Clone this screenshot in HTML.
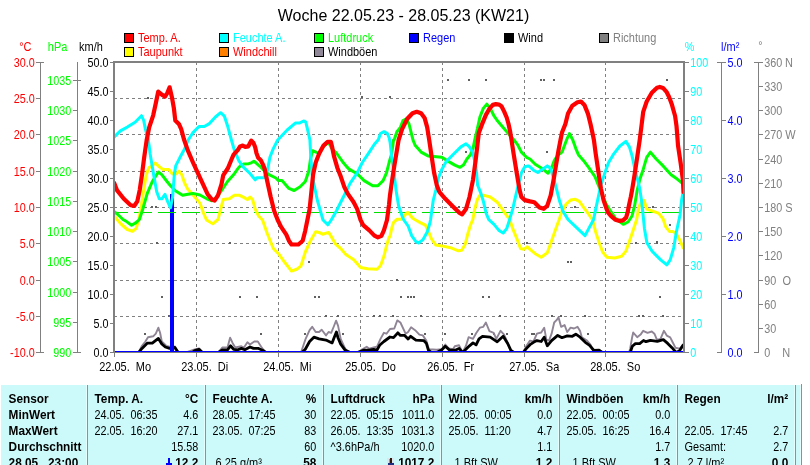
<!DOCTYPE html><html><head><meta charset="utf-8"><title>Woche 22.05.23 - 28.05.23 (KW21)</title>
<style>html,body{margin:0;padding:0;background:#fff;overflow:hidden}svg{display:block}text{font-family:"Liberation Sans", Arial, sans-serif;font-size:12px}</style></head><body>
<svg width="810" height="465" viewBox="0 0 810 465">
<rect width="810" height="465" fill="#fff"/>
<text transform="translate(403.5 21.1) scale(1 1)" text-anchor="middle" fill="#000" xml:space="preserve" style="font-size:16px">Woche 22.05.23 - 28.05.23 (KW21)</text>
<rect x="124.5" y="33.5" width="9" height="9" fill="#ff0000" stroke="#000" stroke-width="1"/>
<text transform="translate(138 42) scale(0.915 1)" text-anchor="start" fill="#ff0000" xml:space="preserve">Temp. A.</text>
<rect x="124.5" y="47.5" width="9" height="9" fill="#ffff00" stroke="#000" stroke-width="1"/>
<text transform="translate(138 56) scale(0.915 1)" text-anchor="start" fill="#ff0000" xml:space="preserve">Taupunkt</text>
<rect x="219.5" y="33.5" width="9" height="9" fill="#00ffff" stroke="#000" stroke-width="1"/>
<text transform="translate(233 42) scale(0.915 1)" text-anchor="start" fill="#00ffff" xml:space="preserve">Feuchte A.</text>
<rect x="219.5" y="47.5" width="9" height="9" fill="#ff8000" stroke="#000" stroke-width="1"/>
<text transform="translate(233 56) scale(0.915 1)" text-anchor="start" fill="#ff0000" xml:space="preserve">Windchill</text>
<rect x="314.5" y="33.5" width="9" height="9" fill="#00ff00" stroke="#000" stroke-width="1"/>
<text transform="translate(328 42) scale(0.915 1)" text-anchor="start" fill="#00ff00" xml:space="preserve">Luftdruck</text>
<rect x="314.5" y="47.5" width="9" height="9" fill="#908898" stroke="#000" stroke-width="1"/>
<text transform="translate(328 56) scale(0.915 1)" text-anchor="start" fill="#000" xml:space="preserve">Windböen</text>
<rect x="409.5" y="33.5" width="9" height="9" fill="#0000ff" stroke="#000" stroke-width="1"/>
<text transform="translate(423 42) scale(0.915 1)" text-anchor="start" fill="#0000ff" xml:space="preserve">Regen</text>
<rect x="504.5" y="33.5" width="9" height="9" fill="#000" stroke="#000" stroke-width="1"/>
<text transform="translate(518 42) scale(0.915 1)" text-anchor="start" fill="#000" xml:space="preserve">Wind</text>
<rect x="599.5" y="33.5" width="9" height="9" fill="#808080" stroke="#000" stroke-width="1"/>
<text transform="translate(613 42) scale(0.915 1)" text-anchor="start" fill="#808080" xml:space="preserve">Richtung</text>
<g stroke="#808080" stroke-width="1" stroke-dasharray="3 3" fill="none" shape-rendering="crispEdges">
<path d="M196.5 63 V351" stroke-dashoffset="1"/>
<path d="M278.5 63 V351" stroke-dashoffset="1"/>
<path d="M360.5 63 V351" stroke-dashoffset="1"/>
<path d="M442.5 63 V351" stroke-dashoffset="1"/>
<path d="M524.5 63 V351" stroke-dashoffset="1"/>
<path d="M605.5 63 V351" stroke-dashoffset="1"/>
<path d="M115 98.5 H683" stroke-dashoffset="1"/>
<path d="M115 134.5 H683" stroke-dashoffset="1"/>
<path d="M115 171.5 H683" stroke-dashoffset="1"/>
<path d="M115 207.5 H683" stroke-dashoffset="1"/>
<path d="M115 243.5 H683" stroke-dashoffset="1"/>
<path d="M115 280.5 H683" stroke-dashoffset="1"/>
<path d="M115 316.5 H683" stroke-dashoffset="1"/>
</g>
<defs><clipPath id="pc"><rect x="115" y="63" width="568" height="290"/></clipPath></defs>
<g clip-path="url(#pc)">
<g>
<rect x="147" y="97" width="2" height="2" fill="#606060"/>
<rect x="151" y="206" width="2" height="2" fill="#606060"/>
<rect x="155" y="206" width="2" height="2" fill="#606060"/>
<rect x="156" y="242" width="2" height="2" fill="#606060"/>
<rect x="161" y="296" width="2" height="2" fill="#606060"/>
<rect x="229" y="242" width="2" height="2" fill="#606060"/>
<rect x="239" y="296" width="2" height="2" fill="#606060"/>
<rect x="144" y="333" width="2" height="2" fill="#606060"/>
<rect x="168" y="315" width="2" height="2" fill="#606060"/>
<rect x="361" y="96" width="2" height="2" fill="#606060"/>
<rect x="389" y="96" width="2" height="2" fill="#606060"/>
<rect x="308" y="261" width="2" height="2" fill="#606060"/>
<rect x="256" y="296" width="2" height="2" fill="#606060"/>
<rect x="314" y="296" width="2" height="2" fill="#606060"/>
<rect x="318" y="296" width="2" height="2" fill="#606060"/>
<rect x="260" y="333" width="2" height="2" fill="#606060"/>
<rect x="304" y="333" width="2" height="2" fill="#606060"/>
<rect x="342" y="333" width="2" height="2" fill="#606060"/>
<rect x="325" y="315" width="2" height="2" fill="#606060"/>
<rect x="337" y="315" width="2" height="2" fill="#606060"/>
<rect x="373" y="315" width="2" height="2" fill="#606060"/>
<rect x="379" y="315" width="2" height="2" fill="#606060"/>
<rect x="447" y="79" width="2" height="2" fill="#606060"/>
<rect x="468" y="79" width="2" height="2" fill="#606060"/>
<rect x="485" y="79" width="2" height="2" fill="#606060"/>
<rect x="465" y="151" width="2" height="2" fill="#606060"/>
<rect x="458" y="206" width="2" height="2" fill="#606060"/>
<rect x="400" y="296" width="2" height="2" fill="#606060"/>
<rect x="407" y="296" width="2" height="2" fill="#606060"/>
<rect x="410" y="296" width="2" height="2" fill="#606060"/>
<rect x="413" y="296" width="2" height="2" fill="#606060"/>
<rect x="482" y="296" width="2" height="2" fill="#606060"/>
<rect x="488" y="296" width="2" height="2" fill="#606060"/>
<rect x="396" y="279" width="2" height="2" fill="#606060"/>
<rect x="526" y="242" width="2" height="2" fill="#606060"/>
<rect x="424" y="333" width="2" height="2" fill="#606060"/>
<rect x="444" y="333" width="2" height="2" fill="#606060"/>
<rect x="471" y="333" width="2" height="2" fill="#606060"/>
<rect x="493" y="333" width="2" height="2" fill="#606060"/>
<rect x="506" y="333" width="2" height="2" fill="#606060"/>
<rect x="392" y="315" width="2" height="2" fill="#606060"/>
<rect x="420" y="315" width="2" height="2" fill="#606060"/>
<rect x="499" y="315" width="2" height="2" fill="#606060"/>
<rect x="540" y="79" width="2" height="2" fill="#606060"/>
<rect x="543" y="79" width="2" height="2" fill="#606060"/>
<rect x="553" y="79" width="2" height="2" fill="#606060"/>
<rect x="666" y="79" width="2" height="2" fill="#606060"/>
<rect x="546" y="151" width="2" height="2" fill="#606060"/>
<rect x="574" y="206" width="2" height="2" fill="#606060"/>
<rect x="652" y="206" width="2" height="2" fill="#606060"/>
<rect x="567" y="261" width="2" height="2" fill="#606060"/>
<rect x="570" y="261" width="2" height="2" fill="#606060"/>
<rect x="635" y="242" width="2" height="2" fill="#606060"/>
<rect x="656" y="242" width="2" height="2" fill="#606060"/>
<rect x="659" y="296" width="2" height="2" fill="#606060"/>
<rect x="531" y="333" width="2" height="2" fill="#606060"/>
<rect x="533" y="333" width="2" height="2" fill="#606060"/>
<rect x="587" y="333" width="2" height="2" fill="#606060"/>
<rect x="551" y="315" width="2" height="2" fill="#606060"/>
<rect x="560" y="315" width="2" height="2" fill="#606060"/>
<rect x="584" y="315" width="2" height="2" fill="#606060"/>
<rect x="638" y="315" width="2" height="2" fill="#606060"/>
<rect x="642" y="315" width="2" height="2" fill="#606060"/>
<rect x="662" y="315" width="2" height="2" fill="#606060"/>
<rect x="669" y="224" width="2" height="2" fill="#606060"/>
<rect x="656" y="241" width="2" height="2" fill="#606060"/>
</g>
<polyline points="114.5,352.5 138.5,352.5 142,345.8 145.4,341.5 148,337.2 153.2,336.3 155.8,333.7 158.4,327.7 160.1,332.8 161.8,341.5 166.2,345.8 169.6,346.7 175,346.5 178.3,352.5 186,352.5 194.7,349.5 199,348.3 202.5,352.5 218,352.5 222.3,347.5 227.5,347.5 230.1,337.7 232.7,343.2 235.3,347.5 241.4,346.3 244,347.5 247.4,342.3 250,344.5 254.3,341.5 257.8,341.5 261.2,346.7 265.6,352.5 289.7,352.5 301,352.5 305.3,339.7 309.6,330.2 312.2,326.8 315.7,332 319.1,332 321.7,329.7 326,335.4 328.6,332 331.2,332.8 333.8,326.5 336.1,320.7 338.1,325.9 340.7,338.9 344.2,346.7 347.7,352.5 350,352.5 358,352.5 362.3,349.3 366.7,346.7 369.3,348.7 373.6,347.5 377,346.7 380.5,338.9 383.9,332.8 386.5,333.7 390,329 394.3,328.5 397.3,320.4 400.4,322.5 405.6,333.7 408.1,332 411.1,327.3 415.1,330.2 419.4,334.6 422.8,335.4 426.3,340.6 428.9,349.3 436.7,349.8 441.8,349.3 445.3,344.6 448.8,348.4 453,349.3 454.8,346.3 459.1,345.3 462.6,352.5 466,345.8 468.6,337.2 473,338.9 476.4,332.8 479.9,327.7 483.3,326.8 485.9,322.5 489.4,331.1 493.7,332.8 496.3,338.9 500.6,330.8 504.1,334.6 507.5,342.3 511,352.5 513,352.5 521,352.5 523.1,352.5 526.5,345.8 530,340.6 533.5,341.5 536.9,333.7 541.2,332.5 544.2,327.7 546.4,339.7 549,340.6 551.6,333.7 554.2,322.5 556.8,319.9 558.5,317.3 561.1,326.8 564.6,325.1 567.2,332 570.6,327.7 574,328.5 577.5,326.8 580.1,331.1 581.8,337.2 587,340.6 590.5,344.6 593.9,352.5 596,352.5 629,352.5 630.2,348.4 632,338 633.2,332.5 637.2,337.2 640.6,334.6 643.2,330.8 647.5,332.8 651.8,331.5 654.4,333.7 657,339.9 660.5,338.9 663.9,330.8 666.8,335.6 670.2,337.3 672.8,342.5 675.4,347.7 679.8,348.6 683.2,344.3" fill="none" stroke="#8f8595" stroke-width="1.9" stroke-linejoin="round" stroke-linecap="round" />
<polyline points="114.5,352.6 138.5,352.6 142,348.4 147.2,343.2 152.3,343.2 158.4,338.4 161.8,344 165.3,347 169.6,348.4 174.8,347.5 178.3,352.6 186,352.6 192.5,352.6 194.7,350.5 199,349.3 202.5,352.6 218,352.6 222.3,349.8 227.5,349.8 230.5,345.8 233.6,349.3 237.9,349.8 241.4,348.4 244.8,349.8 250,347 253.5,348.4 258.6,348.4 263,350.5 266.4,352.6 291.5,352.6 301.8,352.6 305.3,349.3 309.6,341.5 313.9,337.2 319.1,338.9 326,340.1 332.1,342.9 334,338 336.4,332 338.1,338 340.7,344.1 345.1,350.1 350.2,352.6 357.2,352.6 364.1,350.1 369,350.1 373.6,349.3 377,350.1 379.6,345.3 383.9,341.5 390,337 393.5,337.7 397.8,332.8 400.4,335.4 404.7,335.4 408.1,338.9 410.7,336.3 415.9,340.1 423.7,340.6 426.3,343.2 428.4,350.1 431.5,352.6 436.7,352.6 441.8,349.8 445.3,346.3 449.6,350.1 455.7,350.1 459.1,348.4 462.6,352.6 465.2,350.1 469.5,345.8 473,342.9 476.1,344.9 479,338.9 482.5,336.3 490.2,337.2 497.2,341.8 503.2,336.3 507.5,343.2 511,350.5 514.4,352.6 523.1,352.6 526.5,348.4 530,344.7 533.5,342.3 536.9,340.6 541.2,341.5 544.2,337.2 547.3,345.8 551.6,340.6 557.7,335.4 562,337.7 567.2,335.9 572.3,336.3 575.8,334.2 580.1,337.2 585.3,342.3 589.6,345.3 593.9,350.5 599.1,350.1 602.6,352.6 630.2,352.6 632.3,346.3 635.4,343.6 639.7,343.6 643.5,340.5 646,341.7 650.4,340.3 657.3,341.3 663.3,339.6 667.7,343.4 672,347.7 676.3,352.6 679.8,350.3 683.2,345.1" fill="none" stroke="#000" stroke-width="2.8" stroke-linejoin="round" stroke-linecap="round" />
<rect x="170" y="194" width="4" height="158" fill="#0000ff"/>
<rect x="115" y="351" width="568" height="1" fill="#0000ff"/>
<path d="M115 212.5 H683" stroke="#00e000" stroke-width="1" stroke-dasharray="18 6" stroke-dashoffset="5" fill="none" shape-rendering="crispEdges"/>
<polyline points="114.3,216 117,219.5 121,224 127.3,229.5 132.5,231.2 136,228.6 138.5,221 141.1,207.4 143.7,190.1 146.3,174.6 148.9,167.7 155.3,163 159.3,166.8 162.7,169.4 168.8,169.4 172.2,173.7 175,174.5 179.1,171.1 181.7,174.6 184.3,182.3 187.8,189.3 191.2,192.7 194.7,197 199.9,203.1 203.3,212.6 206.5,220 212.8,223.8 218,219.5 220.6,209.1 223.2,199.6 229.3,198.8 234.4,195.3 239.6,195.3 244.8,197.9 247.4,199.6 250,197 252.6,199.6 255.2,209.1 258.6,216 262.5,220 267.3,233.8 273.3,248.5 278.5,253.7 284.6,262.3 291.5,271 296.7,269.3 301,265.8 305.3,252 310.5,240.7 315.7,231.8 319.1,232.4 322.6,234.2 328.6,232.4 331.2,236.4 335.6,244.2 340.7,248.5 345.9,254.6 353.7,259.8 360.6,267.5 367.5,268.7 377,269.3 380.5,265.8 383.9,256.3 386.5,245.9 389.1,237.3 390,236.4 391.7,228.3 393.4,222.7 396.9,219.3 401.2,219.3 404.6,215.4 407.7,212.3 409.8,214.5 412.4,218 415.1,219.7 420.2,222.6 425.4,225.2 428,230.4 431.5,239 435.8,245.1 441.8,245.9 450.5,247.7 458.3,250.8 461.7,250.2 465.2,244.2 467.8,233.8 470.4,225.2 472.8,219.7 474.7,209.1 477.3,199.6 479.9,195.3 485,195.6 490.2,197 497.2,202.2 502.3,209.1 505.8,214.3 509.7,219.5 512.7,228.6 517,239 520.5,248.5 523.9,249.4 527.4,246.8 530,249.4 535.2,253.7 541.2,257.2 547.3,252.8 551.6,240.7 555.9,228.6 559,220 562,210.9 566.3,203.9 570.6,200.1 575.3,199.3 579.3,201.4 583.6,207.4 588.8,214.3 592.6,220 595.7,232.1 599.1,242.5 602.6,252 606.9,257.2 614.7,258 621.6,256.3 625.9,251.1 630.2,239 633.7,228.6 636.5,220 638.9,207.4 641.5,200.5 644.1,200.5 646.7,209.1 652.7,211.2 658.8,213.4 663.1,219 665.7,226.9 669.4,231.4 672.8,231.4 676.3,234 679.8,240.1 683.2,247.8" fill="none" stroke="#ffff00" stroke-width="3" stroke-linejoin="round" stroke-linecap="round" />
<polyline points="114.3,211.7 118.6,215.2 123,219.5 125.6,220.9 131.6,225.2 136,222.6 139.4,219.5 142.8,209.1 147.2,193.6 152.3,181.5 158.4,172 161.8,174.6 167,181.5 170.5,185.8 175.7,191 182.6,195.3 187.8,194.3 193,193.4 199.9,195 206.8,198.8 212,200.8 216,198 220.6,191.8 227.5,181.5 234.4,173.7 238.3,168 240.9,165.4 243.5,164.1 248.7,163.7 251.3,162.8 253.9,161.3 256.5,163.3 259.9,166.3 263.8,170.2 269,174.6 275.9,178 278.5,180.6 282,180.6 288.9,188.4 294.1,190.5 300.1,186.7 305.3,181.5 308.8,171.1 310.5,159 312.6,150.7 316.5,152.4 319.5,153 323.5,146.5 328.6,142 331.2,147.5 333.5,150.5 336.4,153 343.4,162.8 346,165.9 349,169.1 357.2,173.7 364.1,180.6 372.7,185.8 377.9,185.8 383.1,180.6 386.5,172.8 389.1,162.5 391.7,153.8 393.5,140 394.3,139.5 396.9,131.7 400.4,127.4 403,120.5 406.4,118.8 409,124 411.6,134.3 413,140 415.1,145.2 421.1,152.1 428,155.9 441.8,157.3 448.8,161.6 454.8,165.1 460,167.3 463.5,165.1 466.9,159 470.4,154.7 473,148.6 474.7,140 477.3,129.1 479.9,117 483.3,108.4 486.8,104.1 490.2,108.4 493.7,115.3 497.2,120.5 502.3,126.5 507.5,132.6 514,140 517.9,145.2 521.4,152.1 526.5,157.3 530,159 535.2,164.2 542.1,168.5 548.1,173.2 551.6,167.7 554.2,160.7 558,155 562,152.1 564.6,145.2 566.5,140 569.4,133.5 572.8,140 575.8,148.6 578.4,154.7 583.6,160.7 588.8,167.7 594.8,176.3 598.3,184.9 602.6,195.3 606,203.9 610.4,210.9 616,219 623.3,224.3 628,222 632,216 634.6,205.7 637.2,190.1 639.7,179.8 643.2,169.4 646.7,157.3 650.4,152.2 656.2,159 663.1,165.9 671.1,174.8 677.2,179.1 681.5,182.5 683,184" fill="none" stroke="#00ff00" stroke-width="3" stroke-linejoin="round" stroke-linecap="round" />
<polyline points="114.3,136.9 120.4,130.9 127.3,127.1 135.1,122.2 141.5,115.7 143.7,120.5 145.4,129.1 148.4,140 150.1,153.8 153.6,174.6 156.7,191.8 159.3,198.8 161.8,198.8 165,194.4 167.9,202.2 170.5,207.8 172.6,197 174.3,174.6 175.7,165.9 180,157.3 184.3,149.5 188.2,140 193,132.6 199,126.5 204.2,126.5 209.4,123.6 215.4,117 220.6,112.7 224.4,116.2 227.5,125.7 231.4,140 234.4,150.4 238.8,160.7 243.1,166.8 250,173.5 255.2,179.8 256.9,177.7 263.8,177.7 267.3,171.1 269.9,157.3 273.3,148.6 277.7,140 287.2,130 295.3,123.1 299.3,123.1 303.6,121 305.7,121.9 307.9,130.9 309.9,140 310.8,157.3 312.2,174.6 314.8,188.4 317.4,200.5 320.9,212.6 323,220 327.8,224.8 331.2,220 336.4,210.9 341.6,200.5 345.9,191.8 350.2,183.2 357.2,172.8 362.3,162.5 369.3,152.1 374.4,144.3 378.3,139.7 380.5,133.5 384,131.7 387.4,133.5 389.2,138 390.2,143 391.7,157.3 394.3,174.6 396,190.1 398.6,205.7 402.1,216 403.8,220 408.1,226 411.6,235.6 415.9,241.6 418.5,243 422.8,239.9 427.2,232.1 429.8,223.5 430.6,219.5 433.2,200.5 435.8,190.1 438.4,178 441.8,169.4 446.2,161.6 453.9,153.8 460.9,146.9 466,143.8 469.5,146.9 473,153 476,167.7 477.6,185 481,193.6 483.6,202.3 486.2,213.5 488.8,219.6 494,224.4 498.9,230.4 503.2,233 506.7,228.6 509.3,220.5 512.7,209.1 516.2,193.6 518.8,183.2 521.4,172.8 524.8,166.8 528.3,165.9 530,166.8 533.5,170.2 537.8,172.5 542.1,169.4 547.3,165.9 550.7,168.5 552.5,174.6 555.9,186.7 559.4,200.5 562.8,210.9 568,219.5 575.8,226.9 585,235.6 589.6,226.9 593.5,219.7 595.7,209.1 598.3,197 600.9,184.9 604.3,174.6 608.6,162.5 613.8,153.8 619.9,146 625.9,141.4 629.4,146.9 632,155.6 634.6,167.7 637.2,178 639.7,188.4 641.5,200.5 643.2,216 644.5,229 646.9,242.7 652.1,251.3 660.7,259.9 666.8,264.8 670.2,259.9 673.7,247.8 676.3,232.3 678.9,220.2 680.1,214.5 681.5,200.7 682.9,192.9" fill="none" stroke="#00ffff" stroke-width="3" stroke-linejoin="round" stroke-linecap="round" />
<polyline points="114.3,183.2 116.9,190.1 123.8,198.8 130.7,205.3 134.2,206 137.3,201.4 139.7,190.1 142,174.6 144.2,157.3 146.6,140.5 149.2,127.4 153.2,115.3 155.8,103.2 158.2,91.6 161.8,94.6 165,96.6 167.4,92.8 169.6,87.3 171.9,97.2 173.9,108.4 175.3,120.5 179.1,124.3 181.2,129.1 184,139.5 187.8,150.4 193,162.5 198.1,173.7 203.3,184.9 207.7,194.4 212,199.6 214.6,200.5 218,195.3 221.5,184.1 223.2,175.4 228,168 231.9,158.5 233.6,154.6 237.9,149.9 240.1,146.4 242.7,145.6 245.3,146.9 248.3,146.4 250,143 251.3,140.6 253.5,143 255.2,147.3 256.5,153.3 258.2,157.7 260.8,160.3 263,164.6 264.7,169 267.3,181.5 270.7,197 274.2,210.9 277.7,220 281.1,226.9 286.3,234.7 288.9,240.7 291.5,244.5 298.4,244.5 302.7,240.7 305.3,230.4 307.4,220 309.6,209.1 311.4,191.8 313.1,174.6 315.7,162.5 319.1,153.8 323.5,145.6 327.6,141.9 330.9,141.9 332.2,147.3 333.9,155.9 337.3,167.7 340.7,176.3 344.2,186.7 347.7,193.6 353.7,202.2 357.2,209.1 360.6,220 363.2,225.2 369.3,230.4 374.4,235.6 377.9,237.3 381.4,235.9 383.9,230.4 387,220 389,205 390,195 391.7,183.2 394.3,165.9 396.9,150.4 398.6,140 402.1,129.1 407.3,118.8 412.5,113.2 416.8,111.8 421.1,113.3 424.6,117.9 427.2,127.4 429.2,140 431.5,155.6 434.1,172.8 436.7,184.9 439.3,191.8 445.3,198.8 453.9,207.4 459.1,212.6 462.2,214.3 466,209.1 469.5,197 473,179.8 475.6,160.7 477.2,146.9 478,140 478.8,133 482,124.4 485.9,114.9 489.4,108.8 492.8,104.9 495.9,104.1 498.9,104.5 501.5,106.2 504.1,111.4 506.7,117.5 508.4,123.5 510.1,131.3 511.5,140 513.6,153.8 517,174.6 519.6,190.1 521.4,197 524.8,200.1 530,201.4 534.3,202.2 539.5,207.4 543.8,208.8 547.3,205.7 550.7,195.3 553.3,181.5 555.9,165.9 558.5,150.4 560.5,140 562,132.6 565.4,124 568,113.6 572.3,105.8 577.5,102.3 581,101.5 584.4,104.9 587.9,113.6 590.5,124 593.1,136 593.9,140 595.7,153.8 598.3,171.1 600.9,188.4 603.6,200.4 606.6,209 608,212.5 610.9,215.9 615.3,219.8 619.6,220.9 623,220.4 626.1,217.7 627.8,211.6 629.1,204.7 630.8,196.9 632.1,190 634.6,174.6 637.2,157.3 639.7,140 641.5,125.7 643.2,111.9 646.7,101.5 651.8,92.8 657,87.7 659.8,86.9 663,87.9 666.5,91.8 669.1,97 671.7,103.9 673.4,110 675.1,116 676.5,126 677.2,134.5 678,145.4 680.6,162.7 682.9,179.9 683.5,192" fill="none" stroke="#ff0000" stroke-width="4.2" stroke-linejoin="round" stroke-linecap="round" />
</g>
<g stroke="#808080" fill="none" shape-rendering="crispEdges" stroke-width="1">
<rect x="113" y="61" width="2" height="292" fill="#808080" stroke="none"/>
<rect x="113" y="61" width="572" height="2" fill="#808080" stroke="none"/>
<rect x="683" y="61" width="2" height="292" fill="#808080" stroke="none"/>
<path d="M113 352.5 H688"/>
<path d="M114.5 353 V357"/>
<path d="M196.5 353 V357"/>
<path d="M278.5 353 V357"/>
<path d="M360.5 353 V357"/>
<path d="M442.5 353 V357"/>
<path d="M524.5 353 V357"/>
<path d="M605.5 353 V357"/>
<path d="M40.5 62 V353"/>
<path d="M36 62.5 H44"/>
<path d="M36 98.5 H40"/>
<path d="M36 134.5 H40"/>
<path d="M36 171.5 H40"/>
<path d="M36 207.5 H40"/>
<path d="M36 243.5 H40"/>
<path d="M36 280.5 H40"/>
<path d="M36 316.5 H40"/>
<path d="M36 352.5 H44"/>
<path d="M77.5 62 V353"/>
<path d="M73 352.5 H81"/>
<path d="M73 322.5 H77"/>
<path d="M73 292.5 H77"/>
<path d="M73 261.5 H77"/>
<path d="M73 231.5 H77"/>
<path d="M73 201.5 H77"/>
<path d="M73 171.5 H77"/>
<path d="M73 140.5 H77"/>
<path d="M73 110.5 H77"/>
<path d="M73 80.5 H81"/>
<path d="M110 352.5 H113"/>
<path d="M110 323.5 H113"/>
<path d="M110 294.5 H113"/>
<path d="M110 265.5 H113"/>
<path d="M110 236.5 H113"/>
<path d="M110 207.5 H113"/>
<path d="M110 178.5 H113"/>
<path d="M110 149.5 H113"/>
<path d="M110 120.5 H113"/>
<path d="M110 91.5 H113"/>
<path d="M110 62.5 H113"/>
<path d="M685 352.5 H689"/>
<path d="M685 323.5 H689"/>
<path d="M685 294.5 H689"/>
<path d="M685 265.5 H689"/>
<path d="M685 236.5 H689"/>
<path d="M685 207.5 H689"/>
<path d="M685 178.5 H689"/>
<path d="M685 149.5 H689"/>
<path d="M685 120.5 H689"/>
<path d="M685 91.5 H689"/>
<path d="M685 62.5 H689"/>
<path d="M721.5 62 V353"/>
<path d="M717 352.5 H722"/>
<path d="M722 294.5 H726"/>
<path d="M722 236.5 H726"/>
<path d="M722 178.5 H726"/>
<path d="M722 120.5 H726"/>
<path d="M717 62.5 H726"/>
<path d="M758.5 62 V353"/>
<path d="M754 352.5 H759"/>
<path d="M759 328.5 H763"/>
<path d="M759 304.5 H763"/>
<path d="M759 280.5 H763"/>
<path d="M759 255.5 H763"/>
<path d="M759 231.5 H763"/>
<path d="M759 207.5 H763"/>
<path d="M759 183.5 H763"/>
<path d="M759 159.5 H763"/>
<path d="M759 134.5 H763"/>
<path d="M759 110.5 H763"/>
<path d="M759 86.5 H763"/>
<path d="M754 62.5 H763"/>
</g>
<text transform="translate(19.2 51) scale(0.915 1)" text-anchor="start" fill="#ff0000" xml:space="preserve">°C</text>
<text transform="translate(47.8 51) scale(0.915 1)" text-anchor="start" fill="#00ff00" xml:space="preserve">hPa</text>
<text transform="translate(79 51) scale(0.915 1)" text-anchor="start" fill="#000" xml:space="preserve">km/h</text>
<text transform="translate(684.7 51) scale(0.9 1)" text-anchor="start" fill="#00ffff" xml:space="preserve">%</text>
<text transform="translate(721 51) scale(0.915 1)" text-anchor="start" fill="#0000ff" xml:space="preserve">l/m²</text>
<text transform="translate(758.3 49.8) scale(0.9 1)" text-anchor="start" fill="#808080" xml:space="preserve">°</text>
<text transform="translate(34.7 67) scale(0.9 1)" text-anchor="end" fill="#ff0000" xml:space="preserve">30.0</text>
<text transform="translate(34.7 103) scale(0.9 1)" text-anchor="end" fill="#ff0000" xml:space="preserve">25.0</text>
<text transform="translate(34.7 139) scale(0.9 1)" text-anchor="end" fill="#ff0000" xml:space="preserve">20.0</text>
<text transform="translate(34.7 176) scale(0.9 1)" text-anchor="end" fill="#ff0000" xml:space="preserve">15.0</text>
<text transform="translate(34.7 212) scale(0.9 1)" text-anchor="end" fill="#ff0000" xml:space="preserve">10.0</text>
<text transform="translate(34.7 248) scale(0.9 1)" text-anchor="end" fill="#ff0000" xml:space="preserve">5.0</text>
<text transform="translate(34.7 285) scale(0.9 1)" text-anchor="end" fill="#ff0000" xml:space="preserve">0.0</text>
<text transform="translate(34.7 321) scale(0.9 1)" text-anchor="end" fill="#ff0000" xml:space="preserve">-5.0</text>
<text transform="translate(34.7 357) scale(0.9 1)" text-anchor="end" fill="#ff0000" xml:space="preserve">-10.0</text>
<text transform="translate(71.2 357) scale(0.9 1)" text-anchor="end" fill="#00ff00" xml:space="preserve">990</text>
<text transform="translate(71.2 327) scale(0.9 1)" text-anchor="end" fill="#00ff00" xml:space="preserve">995</text>
<text transform="translate(71.2 297) scale(0.9 1)" text-anchor="end" fill="#00ff00" xml:space="preserve">1000</text>
<text transform="translate(71.2 266) scale(0.9 1)" text-anchor="end" fill="#00ff00" xml:space="preserve">1005</text>
<text transform="translate(71.2 236) scale(0.9 1)" text-anchor="end" fill="#00ff00" xml:space="preserve">1010</text>
<text transform="translate(71.2 206) scale(0.9 1)" text-anchor="end" fill="#00ff00" xml:space="preserve">1015</text>
<text transform="translate(71.2 176) scale(0.9 1)" text-anchor="end" fill="#00ff00" xml:space="preserve">1020</text>
<text transform="translate(71.2 145) scale(0.9 1)" text-anchor="end" fill="#00ff00" xml:space="preserve">1025</text>
<text transform="translate(71.2 115) scale(0.9 1)" text-anchor="end" fill="#00ff00" xml:space="preserve">1030</text>
<text transform="translate(71.2 85) scale(0.9 1)" text-anchor="end" fill="#00ff00" xml:space="preserve">1035</text>
<text transform="translate(108.5 357) scale(0.9 1)" text-anchor="end" fill="#000" xml:space="preserve">0.0</text>
<text transform="translate(690.3 357) scale(0.9 1)" text-anchor="start" fill="#00ffff" xml:space="preserve">0</text>
<text transform="translate(108.5 328) scale(0.9 1)" text-anchor="end" fill="#000" xml:space="preserve">5.0</text>
<text transform="translate(690.3 328) scale(0.9 1)" text-anchor="start" fill="#00ffff" xml:space="preserve">10</text>
<text transform="translate(108.5 299) scale(0.9 1)" text-anchor="end" fill="#000" xml:space="preserve">10.0</text>
<text transform="translate(690.3 299) scale(0.9 1)" text-anchor="start" fill="#00ffff" xml:space="preserve">20</text>
<text transform="translate(108.5 270) scale(0.9 1)" text-anchor="end" fill="#000" xml:space="preserve">15.0</text>
<text transform="translate(690.3 270) scale(0.9 1)" text-anchor="start" fill="#00ffff" xml:space="preserve">30</text>
<text transform="translate(108.5 241) scale(0.9 1)" text-anchor="end" fill="#000" xml:space="preserve">20.0</text>
<text transform="translate(690.3 241) scale(0.9 1)" text-anchor="start" fill="#00ffff" xml:space="preserve">40</text>
<text transform="translate(108.5 212) scale(0.9 1)" text-anchor="end" fill="#000" xml:space="preserve">25.0</text>
<text transform="translate(690.3 212) scale(0.9 1)" text-anchor="start" fill="#00ffff" xml:space="preserve">50</text>
<text transform="translate(108.5 183) scale(0.9 1)" text-anchor="end" fill="#000" xml:space="preserve">30.0</text>
<text transform="translate(690.3 183) scale(0.9 1)" text-anchor="start" fill="#00ffff" xml:space="preserve">60</text>
<text transform="translate(108.5 154) scale(0.9 1)" text-anchor="end" fill="#000" xml:space="preserve">35.0</text>
<text transform="translate(690.3 154) scale(0.9 1)" text-anchor="start" fill="#00ffff" xml:space="preserve">70</text>
<text transform="translate(108.5 125) scale(0.9 1)" text-anchor="end" fill="#000" xml:space="preserve">40.0</text>
<text transform="translate(690.3 125) scale(0.9 1)" text-anchor="start" fill="#00ffff" xml:space="preserve">80</text>
<text transform="translate(108.5 96) scale(0.9 1)" text-anchor="end" fill="#000" xml:space="preserve">45.0</text>
<text transform="translate(690.3 96) scale(0.9 1)" text-anchor="start" fill="#00ffff" xml:space="preserve">90</text>
<text transform="translate(108.5 67) scale(0.9 1)" text-anchor="end" fill="#000" xml:space="preserve">50.0</text>
<text transform="translate(690.3 67) scale(0.9 1)" text-anchor="start" fill="#00ffff" xml:space="preserve">100</text>
<text transform="translate(727.4 357) scale(0.9 1)" text-anchor="start" fill="#0000ff" xml:space="preserve">0.0</text>
<text transform="translate(727.4 299) scale(0.9 1)" text-anchor="start" fill="#0000ff" xml:space="preserve">1.0</text>
<text transform="translate(727.4 241) scale(0.9 1)" text-anchor="start" fill="#0000ff" xml:space="preserve">2.0</text>
<text transform="translate(727.4 183) scale(0.9 1)" text-anchor="start" fill="#0000ff" xml:space="preserve">3.0</text>
<text transform="translate(727.4 125) scale(0.9 1)" text-anchor="start" fill="#0000ff" xml:space="preserve">4.0</text>
<text transform="translate(727.4 67) scale(0.9 1)" text-anchor="start" fill="#0000ff" xml:space="preserve">5.0</text>
<text transform="translate(764.2 357) scale(0.9 1)" text-anchor="start" fill="#808080" xml:space="preserve">0</text>
<text transform="translate(782.3 357) scale(0.915 1)" text-anchor="start" fill="#808080" xml:space="preserve">N</text>
<text transform="translate(764.2 333) scale(0.9 1)" text-anchor="start" fill="#808080" xml:space="preserve">30</text>
<text transform="translate(764.2 309) scale(0.9 1)" text-anchor="start" fill="#808080" xml:space="preserve">60</text>
<text transform="translate(764.2 285) scale(0.9 1)" text-anchor="start" fill="#808080" xml:space="preserve">90</text>
<text transform="translate(782.6 285) scale(0.915 1)" text-anchor="start" fill="#808080" xml:space="preserve">O</text>
<text transform="translate(764.2 260) scale(0.9 1)" text-anchor="start" fill="#808080" xml:space="preserve">120</text>
<text transform="translate(764.2 236) scale(0.9 1)" text-anchor="start" fill="#808080" xml:space="preserve">150</text>
<text transform="translate(764.2 212) scale(0.9 1)" text-anchor="start" fill="#808080" xml:space="preserve">180</text>
<text transform="translate(785.3 212) scale(0.915 1)" text-anchor="start" fill="#808080" xml:space="preserve">S</text>
<text transform="translate(764.2 188) scale(0.9 1)" text-anchor="start" fill="#808080" xml:space="preserve">210</text>
<text transform="translate(764.2 164) scale(0.9 1)" text-anchor="start" fill="#808080" xml:space="preserve">240</text>
<text transform="translate(764.2 139) scale(0.9 1)" text-anchor="start" fill="#808080" xml:space="preserve">270</text>
<text transform="translate(785.3 139) scale(0.915 1)" text-anchor="start" fill="#808080" xml:space="preserve">W</text>
<text transform="translate(764.2 115) scale(0.9 1)" text-anchor="start" fill="#808080" xml:space="preserve">300</text>
<text transform="translate(764.2 91) scale(0.9 1)" text-anchor="start" fill="#808080" xml:space="preserve">330</text>
<text transform="translate(764.2 67) scale(0.9 1)" text-anchor="start" fill="#808080" xml:space="preserve">360</text>
<text transform="translate(785 67) scale(0.915 1)" text-anchor="start" fill="#808080" xml:space="preserve">N</text>
<text transform="translate(99.2 371) scale(0.915 1)" text-anchor="start" fill="#000" xml:space="preserve">22.05.  Mo</text>
<text transform="translate(181.2 371) scale(0.915 1)" text-anchor="start" fill="#000" xml:space="preserve">23.05.  Di</text>
<text transform="translate(263.2 371) scale(0.915 1)" text-anchor="start" fill="#000" xml:space="preserve">24.05.  Mi</text>
<text transform="translate(345.2 371) scale(0.915 1)" text-anchor="start" fill="#000" xml:space="preserve">25.05.  Do</text>
<text transform="translate(427.2 371) scale(0.915 1)" text-anchor="start" fill="#000" xml:space="preserve">26.05.  Fr</text>
<text transform="translate(509.2 371) scale(0.915 1)" text-anchor="start" fill="#000" xml:space="preserve">27.05.  Sa</text>
<text transform="translate(590.2 371) scale(0.915 1)" text-anchor="start" fill="#000" xml:space="preserve">28.05.  So</text>
<rect x="1" y="385" width="800" height="80" fill="#ccfafa"/>
<g shape-rendering="crispEdges">
<rect x="87" y="385" width="1" height="80" fill="#909090"/>
<rect x="86" y="385" width="1" height="80" fill="#e6fdfd"/>
<rect x="205" y="385" width="1" height="80" fill="#909090"/>
<rect x="204" y="385" width="1" height="80" fill="#e6fdfd"/>
<rect x="323" y="385" width="1" height="80" fill="#909090"/>
<rect x="322" y="385" width="1" height="80" fill="#e6fdfd"/>
<rect x="441" y="385" width="1" height="80" fill="#909090"/>
<rect x="440" y="385" width="1" height="80" fill="#e6fdfd"/>
<rect x="559" y="385" width="1" height="80" fill="#909090"/>
<rect x="558" y="385" width="1" height="80" fill="#e6fdfd"/>
<rect x="677" y="385" width="1" height="80" fill="#909090"/>
<rect x="676" y="385" width="1" height="80" fill="#e6fdfd"/>
<rect x="795" y="385" width="1" height="80" fill="#909090"/>
<rect x="794" y="385" width="1" height="80" fill="#e6fdfd"/>
<rect x="800" y="385" width="1" height="80" fill="#e6fdfd"/><rect x="801" y="384" width="1" height="81" fill="#909090"/>
</g>
<text transform="translate(8.6 403) scale(0.985 1)" text-anchor="start" fill="#000" xml:space="preserve" font-weight="bold">Sensor</text>
<text transform="translate(8.6 419) scale(0.985 1)" text-anchor="start" fill="#000" xml:space="preserve" font-weight="bold">MinWert</text>
<text transform="translate(8.6 435) scale(0.985 1)" text-anchor="start" fill="#000" xml:space="preserve" font-weight="bold">MaxWert</text>
<text transform="translate(8.6 451) scale(0.985 1)" text-anchor="start" fill="#000" xml:space="preserve" font-weight="bold">Durchschnitt</text>
<text transform="translate(8.6 467) scale(0.985 1)" text-anchor="start" fill="#000" xml:space="preserve" font-weight="bold">28.05.  23:00</text>
<text transform="translate(94.5 403) scale(0.985 1)" text-anchor="start" fill="#000" xml:space="preserve" font-weight="bold">Temp. A.</text>
<text transform="translate(198.3 403) scale(0.985 1)" text-anchor="end" fill="#000" xml:space="preserve" font-weight="bold">°C</text>
<text transform="translate(94.5 419) scale(0.9 1)" text-anchor="start" fill="#000" xml:space="preserve">24.05.  06:35</text>
<text transform="translate(198.3 419) scale(0.9 1)" text-anchor="end" fill="#000" xml:space="preserve">4.6</text>
<text transform="translate(94.5 435) scale(0.9 1)" text-anchor="start" fill="#000" xml:space="preserve">22.05.  16:20</text>
<text transform="translate(198.3 435) scale(0.9 1)" text-anchor="end" fill="#000" xml:space="preserve">27.1</text>
<text transform="translate(198.3 451) scale(0.9 1)" text-anchor="end" fill="#000" xml:space="preserve">15.58</text>
<text transform="translate(198.3 467) scale(0.985 1)" text-anchor="end" fill="#000" xml:space="preserve" font-weight="bold">12.2</text>
<text transform="translate(212.5 403) scale(0.985 1)" text-anchor="start" fill="#000" xml:space="preserve" font-weight="bold">Feuchte A.</text>
<text transform="translate(316.3 403) scale(0.985 1)" text-anchor="end" fill="#000" xml:space="preserve" font-weight="bold">%</text>
<text transform="translate(212.5 419) scale(0.9 1)" text-anchor="start" fill="#000" xml:space="preserve">28.05.  17:45</text>
<text transform="translate(316.3 419) scale(0.9 1)" text-anchor="end" fill="#000" xml:space="preserve">30</text>
<text transform="translate(212.5 435) scale(0.9 1)" text-anchor="start" fill="#000" xml:space="preserve">23.05.  07:25</text>
<text transform="translate(316.3 435) scale(0.9 1)" text-anchor="end" fill="#000" xml:space="preserve">83</text>
<text transform="translate(316.3 451) scale(0.9 1)" text-anchor="end" fill="#000" xml:space="preserve">60</text>
<text transform="translate(212.5 467) scale(0.915 1)" text-anchor="start" fill="#000" xml:space="preserve"> 6.25 g/m³</text>
<text transform="translate(316.3 467) scale(0.985 1)" text-anchor="end" fill="#000" xml:space="preserve" font-weight="bold">58</text>
<text transform="translate(330.5 403) scale(0.985 1)" text-anchor="start" fill="#000" xml:space="preserve" font-weight="bold">Luftdruck</text>
<text transform="translate(434.3 403) scale(0.985 1)" text-anchor="end" fill="#000" xml:space="preserve" font-weight="bold">hPa</text>
<text transform="translate(330.5 419) scale(0.9 1)" text-anchor="start" fill="#000" xml:space="preserve">22.05.  05:15</text>
<text transform="translate(434.3 419) scale(0.9 1)" text-anchor="end" fill="#000" xml:space="preserve">1011.0</text>
<text transform="translate(330.5 435) scale(0.9 1)" text-anchor="start" fill="#000" xml:space="preserve">26.05.  13:35</text>
<text transform="translate(434.3 435) scale(0.9 1)" text-anchor="end" fill="#000" xml:space="preserve">1031.3</text>
<text transform="translate(330.5 451) scale(0.915 1)" text-anchor="start" fill="#000" xml:space="preserve">^3.6hPa/h</text>
<text transform="translate(434.3 451) scale(0.9 1)" text-anchor="end" fill="#000" xml:space="preserve">1020.0</text>
<text transform="translate(434.3 467) scale(0.985 1)" text-anchor="end" fill="#000" xml:space="preserve" font-weight="bold">1017.2</text>
<text transform="translate(448.5 403) scale(0.985 1)" text-anchor="start" fill="#000" xml:space="preserve" font-weight="bold">Wind</text>
<text transform="translate(552.3 403) scale(0.985 1)" text-anchor="end" fill="#000" xml:space="preserve" font-weight="bold">km/h</text>
<text transform="translate(448.5 419) scale(0.9 1)" text-anchor="start" fill="#000" xml:space="preserve">22.05.  00:05</text>
<text transform="translate(552.3 419) scale(0.9 1)" text-anchor="end" fill="#000" xml:space="preserve">0.0</text>
<text transform="translate(448.5 435) scale(0.9 1)" text-anchor="start" fill="#000" xml:space="preserve">25.05.  11:20</text>
<text transform="translate(552.3 435) scale(0.9 1)" text-anchor="end" fill="#000" xml:space="preserve">4.7</text>
<text transform="translate(552.3 451) scale(0.9 1)" text-anchor="end" fill="#000" xml:space="preserve">1.1</text>
<text transform="translate(448.5 467) scale(0.915 1)" text-anchor="start" fill="#000" xml:space="preserve">  1 Bft SW</text>
<text transform="translate(552.3 467) scale(0.985 1)" text-anchor="end" fill="#000" xml:space="preserve" font-weight="bold">1.2</text>
<text transform="translate(566.5 403) scale(0.985 1)" text-anchor="start" fill="#000" xml:space="preserve" font-weight="bold">Windböen</text>
<text transform="translate(670.3 403) scale(0.985 1)" text-anchor="end" fill="#000" xml:space="preserve" font-weight="bold">km/h</text>
<text transform="translate(566.5 419) scale(0.9 1)" text-anchor="start" fill="#000" xml:space="preserve">22.05.  00:05</text>
<text transform="translate(670.3 419) scale(0.9 1)" text-anchor="end" fill="#000" xml:space="preserve">0.0</text>
<text transform="translate(566.5 435) scale(0.9 1)" text-anchor="start" fill="#000" xml:space="preserve">25.05.  16:25</text>
<text transform="translate(670.3 435) scale(0.9 1)" text-anchor="end" fill="#000" xml:space="preserve">16.4</text>
<text transform="translate(670.3 451) scale(0.9 1)" text-anchor="end" fill="#000" xml:space="preserve">1.7</text>
<text transform="translate(566.5 467) scale(0.915 1)" text-anchor="start" fill="#000" xml:space="preserve">  1 Bft SW</text>
<text transform="translate(670.3 467) scale(0.985 1)" text-anchor="end" fill="#000" xml:space="preserve" font-weight="bold">1.3</text>
<text transform="translate(684.5 403) scale(0.985 1)" text-anchor="start" fill="#000" xml:space="preserve" font-weight="bold">Regen</text>
<text transform="translate(788.3 403) scale(0.985 1)" text-anchor="end" fill="#000" xml:space="preserve" font-weight="bold">l/m²</text>
<text transform="translate(684.5 435) scale(0.9 1)" text-anchor="start" fill="#000" xml:space="preserve">22.05.  17:45</text>
<text transform="translate(788.3 435) scale(0.9 1)" text-anchor="end" fill="#000" xml:space="preserve">2.7</text>
<text transform="translate(684.5 451) scale(0.915 1)" text-anchor="start" fill="#000" xml:space="preserve">Gesamt:</text>
<text transform="translate(788.3 451) scale(0.9 1)" text-anchor="end" fill="#000" xml:space="preserve">2.7</text>
<text transform="translate(684.5 467) scale(0.915 1)" text-anchor="start" fill="#000" xml:space="preserve"> 2.7 l/m²</text>
<text transform="translate(788.3 467) scale(0.985 1)" text-anchor="end" fill="#000" xml:space="preserve" font-weight="bold">0.0</text>
<rect x="168" y="458" width="2" height="7" fill="#0000ff"/><rect x="166" y="463" width="6" height="2" fill="#0000ff"/>
<rect x="387" y="458" width="7" height="7" fill="#dde6ee"/><rect x="390" y="458" width="2" height="7" fill="#301808"/><rect x="389" y="459" width="1" height="6" fill="#ff8000"/><rect x="388" y="463" width="6" height="2" fill="#203080"/>
</svg></body></html>
